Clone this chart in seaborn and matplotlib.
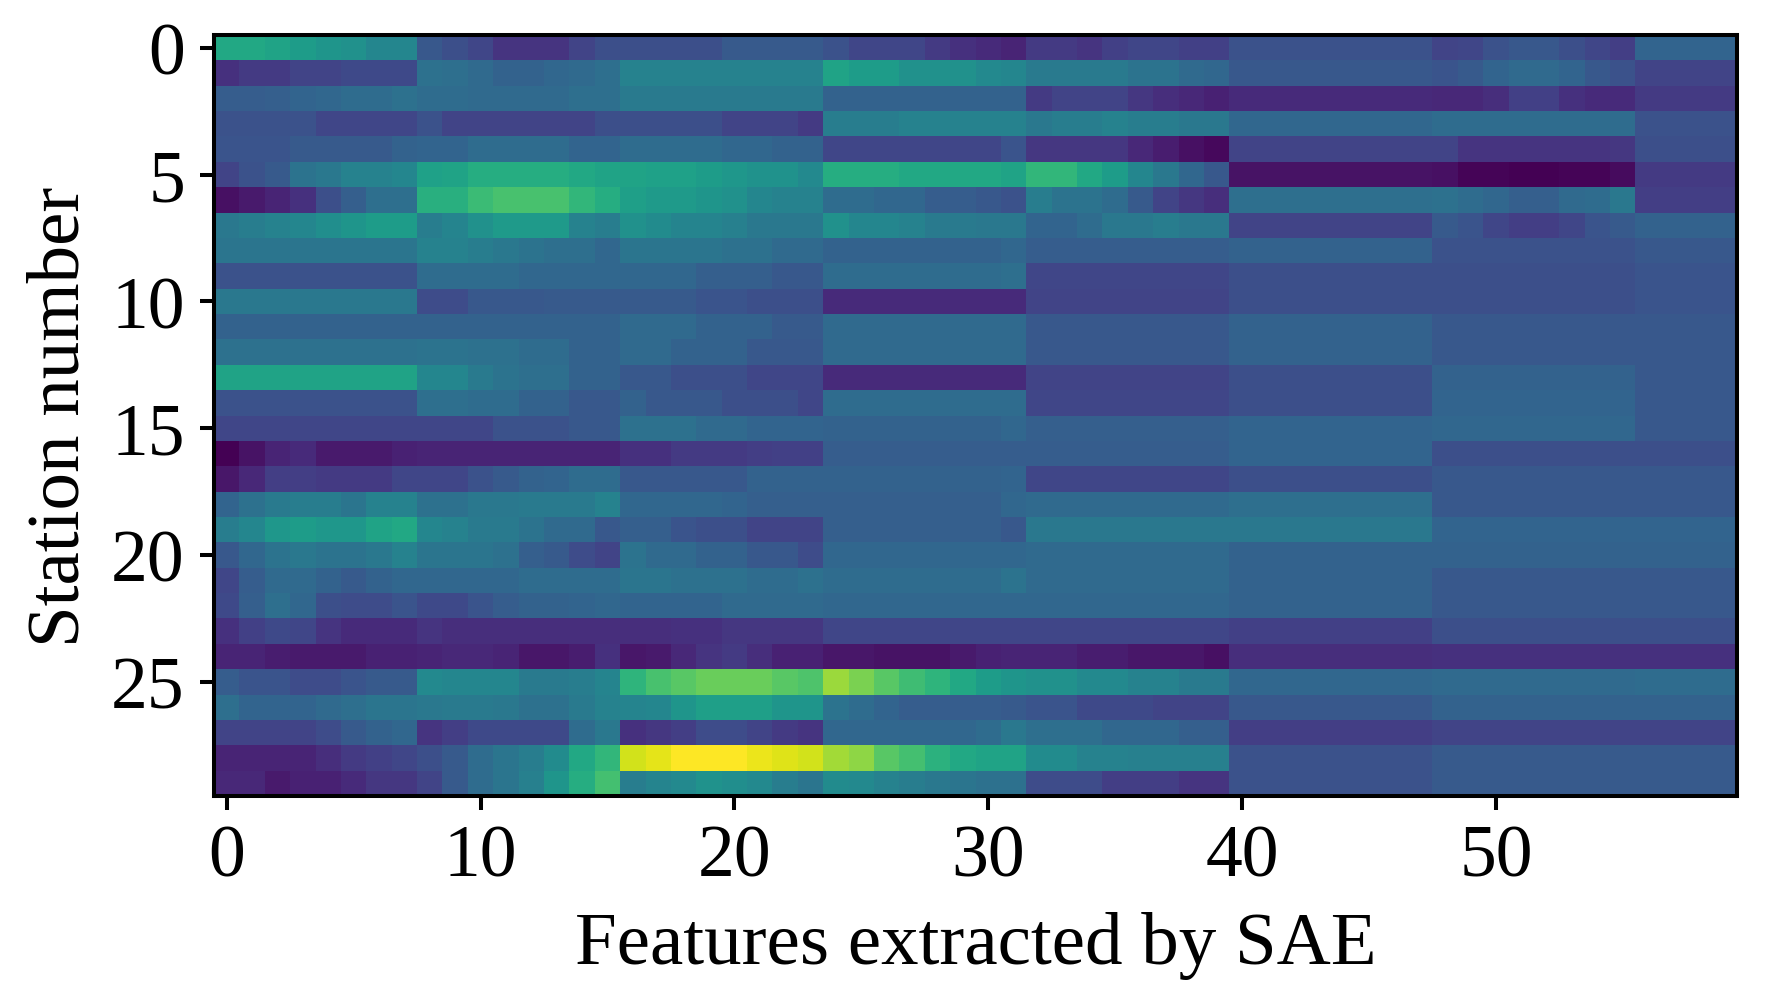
import numpy as np
import matplotlib
matplotlib.use("Agg")
import matplotlib.pyplot as plt
import seaborn as sns

x_label = "Features extracted by SAE"
y_label = "Station number"
x_ticks = [0, 10, 20, 30, 40, 50]
y_ticks = [0, 5, 10, 15, 20, 25]

s00 = [60,60,58,55,52,50,46,46, 27,24,21,15,15,15,20,24, 24,24,24,24,28,28,28,28, 25,21,21,21,17,14,12,10, 17,17,15,19,21,21,19,19, 25,25,25,25,25,25,25,25, 20,21,25,27,27,24,21,18, 32,32,32,32]
s01 = [14,17,17,20,20,22,22,22, 37,36,34,31,31,33,34,36, 44,44,44,44,44,44,44,44, 58,55,55,50,50,50,47,46, 41,41,41,41,38,38,34,33, 27,27,27,27,27,27,27,27, 26,28,32,34,34,32,27,25, 20,20,20,20]
s02 = [29,29,30,32,33,35,35,37, 35,35,34,34,34,34,36,36, 41,41,41,41,41,41,41,41, 31,31,31,31,31,31,31,31, 17,20,20,20,16,13,11,9, 12,12,12,12,12,12,12,12, 11,11,13,19,19,14,12,12, 17,17,17,17]
s03 = [25,25,25,25,21,21,21,21, 25,20,20,20,20,20,20,24, 24,24,24,24,20,20,20,17, 42,42,42,44,44,44,44,44, 40,42,42,44,42,42,40,40, 33,33,33,33,33,33,33,33, 35,35,35,35,35,35,35,35, 25,25,25,25]
s04 = [26,26,26,28,28,28,28,31, 32,32,35,35,35,35,32,32, 35,35,35,35,33,33,31,31, 21,21,21,21,21,21,21,26, 16,16,16,16,11,8,4,2, 20,20,20,20,20,20,20,20, 20,15,15,15,15,15,15,16, 24,24,24,24]
s05 = [20,25,28,38,40,44,44,46, 57,58,62,62,62,62,60,58, 58,57,57,55,53,51,51,47, 62,62,62,60,60,60,60,58, 66,66,60,55,46,40,33,27, 5,5,5,5,5,5,5,5, 4,1,1,0,0,1,1,3, 17,17,17,17]
s06 = [4,7,10,14,24,30,36,36, 63,63,68,71,71,71,66,62, 56,54,54,52,50,46,44,44, 35,35,33,33,29,29,27,25, 42,38,38,35,28,20,16,13, 36,36,36,36,36,36,36,36, 37,35,33,30,30,34,35,40, 18,18,18,18]
s07 = [40,42,44,46,49,52,55,55, 42,45,50,54,54,54,44,42, 50,48,45,45,43,40,40,40, 50,46,46,44,41,41,40,40, 32,32,35,40,40,42,40,40, 20,20,20,20,20,20,20,20, 28,26,21,18,18,21,26,28, 31,31,31,31]
s08 = [39,39,39,39,39,39,39,39, 44,44,42,40,38,36,36,33, 39,39,39,39,37,37,34,34, 31,31,31,31,31,31,31,33, 29,29,29,29,29,29,29,29, 31,31,31,31,31,31,31,31, 25,25,25,25,25,25,25,25, 27,27,27,27]
s09 = [25,25,25,25,25,25,25,25, 35,35,35,35,33,33,33,33, 33,33,33,30,30,30,27,27, 35,35,35,35,35,35,35,36, 21,21,21,21,21,21,21,21, 24,24,24,24,24,24,24,24, 24,24,24,24,24,24,24,24, 26,26,26,26]
s10 = [40,40,40,40,40,40,40,40, 23,23,27,27,27,28,28,28, 28,28,28,26,26,24,24,24, 12,12,12,12,12,12,12,12, 20,20,20,20,20,20,20,20, 24,24,24,24,24,24,24,24, 24,24,24,24,24,24,24,24, 26,26,26,26]
s11 = [31,31,31,31,31,31,31,31, 31,31,31,31,31,31,31,31, 34,34,34,31,31,31,28,28, 34,34,34,34,34,34,34,34, 27,27,27,27,27,27,27,27, 31,31,31,31,31,31,31,31, 27,27,27,27,27,27,27,27, 27,27,27,27]
s12 = [37,37,37,37,37,37,37,37, 38,38,37,37,35,35,31,31, 34,34,31,31,31,27,27,27, 34,34,34,34,34,34,34,34, 27,27,27,27,27,27,27,27, 31,31,31,31,31,31,31,31, 27,27,27,27,27,27,27,27, 27,27,27,27]
s13 = [58,58,58,58,58,58,58,58, 46,46,41,38,36,36,31,31, 27,27,24,24,24,21,21,21, 12,12,12,12,12,12,12,12, 20,20,20,20,20,20,20,20, 24,24,24,24,24,24,24,24, 31,31,31,31,31,31,31,31, 27,27,27,27]
s14 = [25,25,25,25,25,25,25,25, 36,36,35,35,31,31,27,27, 31,27,27,27,24,24,24,21, 35,35,35,35,35,35,35,35, 21,21,21,21,21,21,21,21, 24,24,24,24,24,24,24,24, 32,32,32,32,32,32,32,32, 27,27,27,27]
s15 = [21,21,21,21,21,21,21,21, 21,21,21,25,25,25,27,27, 37,37,37,34,34,32,32,32, 31,31,31,31,31,31,31,33, 30,30,30,30,30,30,30,30, 32,32,32,32,32,32,32,32, 33,33,33,33,33,33,33,33, 27,27,27,27]
s16 = [0,5,10,12,7,7,7,9, 10,10,10,10,10,10,10,10, 14,14,17,17,17,18,19,19, 29,29,29,29,29,29,29,29, 29,29,29,29,29,29,29,29, 32,32,32,32,32,32,32,32, 24,24,24,24,24,24,24,24, 24,24,24,24]
s17 = [6,11,18,18,17,17,17,21, 21,21,25,28,31,32,35,35, 27,27,27,27,27,31,31,31, 31,31,31,31,31,31,31,32, 21,21,21,21,21,21,21,21, 24,24,24,24,24,24,24,24, 27,27,27,27,27,27,27,27, 27,27,27,27]
s18 = [32,37,41,42,42,39,44,44, 37,37,40,40,41,41,41,44, 33,33,33,33,32,30,30,30, 30,30,30,30,30,30,30,33, 34,34,34,34,34,34,34,34, 36,36,36,36,36,36,36,36, 27,27,27,27,27,27,27,27, 27,27,27,27]
s19 = [42,46,53,55,53,53,58,60, 46,44,41,41,38,34,34,27, 30,30,26,24,24,20,20,20, 30,30,30,30,30,30,30,27, 40,40,40,40,40,40,40,40, 40,40,40,40,40,40,40,40, 32,32,32,32,32,32,32,32, 32,32,32,32]
s20 = [27,33,38,40,38,38,40,44, 39,39,39,37,30,28,23,20, 38,34,34,31,31,27,27,23, 33,33,33,33,33,33,33,33, 34,34,34,34,34,34,34,34, 31,31,31,31,31,31,31,31, 31,31,31,31,31,31,31,31, 31,31,31,31]
s21 = [21,29,34,34,31,28,31,33, 33,33,33,33,35,35,35,35, 39,39,37,37,37,35,35,37, 35,35,35,35,35,35,35,38, 34,34,34,34,34,34,34,34, 31,31,31,31,31,31,31,31, 27,27,27,27,27,27,27,27, 27,27,27,27]
s22 = [22,30,36,33,24,23,23,26, 22,22,26,29,31,31,32,33, 32,32,32,32,34,34,34,34, 33,33,33,33,33,33,33,33, 33,33,33,33,33,33,33,33, 31,31,31,31,31,31,31,31, 27,27,27,27,27,27,27,27, 27,27,27,27]
s23 = [14,19,22,21,15,12,12,12, 15,13,13,13,13,13,13,13, 13,13,14,14,16,16,16,16, 21,21,21,21,21,21,21,21, 21,21,21,21,21,21,21,21, 19,19,19,19,19,19,19,19, 24,24,24,24,24,24,24,24, 24,24,24,24]
s24 = [10,10,8,7,7,7,9,9, 10,11,11,10,6,6,8,14, 6,7,11,15,17,13,9,9, 6,6,5,5,5,7,9,10, 10,10,8,8,6,6,6,4, 13,13,13,13,13,13,13,13, 14,14,14,14,14,14,14,14, 14,14,14,14]
s25 = [29,26,26,23,23,26,28,28, 47,46,46,46,41,41,42,45, 65,71,74,77,77,77,74,72, 85,80,74,69,65,60,55,52, 50,50,47,47,44,44,41,41, 33,33,33,33,33,33,33,33, 34,34,34,34,34,34,34,34, 35,35,35,35]
s26 = [36,32,32,32,34,36,39,39, 40,41,41,40,37,37,41,44, 45,46,52,56,56,56,52,52, 38,35,32,29,29,29,29,28, 26,26,22,22,22,20,20,20, 27,27,27,27,27,27,27,27, 31,31,31,31,31,31,31,31, 31,31,31,31]
s27 = [20,20,20,20,23,28,31,33, 15,18,22,22,22,22,35,40, 14,16,18,23,23,20,17,15, 33,33,33,33,33,33,35,40, 36,36,36,33,33,33,30,30, 18,18,18,18,18,18,18,18, 20,20,20,20,20,20,20,20, 20,20,20,20]
s28 = [10,10,10,10,13,17,19,21, 24,28,35,39,42,48,60,66, 93,96,100,100,100,97,95,93, 86,83,74,70,64,60,58,58, 48,48,44,44,43,43,43,43, 25,25,25,25,25,25,25,25, 28,28,28,28,28,28,28,28, 28,28,28,28]
s29 = [11,11,7,9,9,12,16,16, 20,28,35,39,43,52,62,70, 42,45,47,51,49,47,42,39, 48,47,44,42,40,39,37,37, 23,23,23,18,18,18,15,15, 25,25,25,25,25,25,25,25, 28,28,28,28,28,28,28,28, 28,28,28,28]

stations = [s00, s01, s02, s03, s04, s05, s06, s07, s08, s09,
            s10, s11, s12, s13, s14, s15, s16, s17, s18, s19,
            s20, s21, s22, s23, s24, s25, s26, s27, s28, s29]

sns.set_theme(style="white")
plt.rcParams["font.family"] = ["Liberation Serif", "DejaVu Serif"]

W, H, DPI = 1775, 1004, 100
fig = plt.figure(figsize=(W / DPI, H / DPI), dpi=DPI, facecolor="white")
ax = fig.add_axes([214 / W, 1 - 797 / H, (1737 - 214) / W, (797 - 36) / H])

sns.heatmap(np.array(stations, dtype=float), cmap="viridis", vmin=0, vmax=100,
            cbar=False, ax=ax, xticklabels=False, yticklabels=False)

ax.set_xticks([t + 0.5 for t in x_ticks], labels=[str(t) for t in x_ticks])
ax.set_yticks([t + 0.5 for t in y_ticks], labels=[str(t) for t in y_ticks], rotation=0)
ax.tick_params(axis="x", which="major", labelsize=53, length=10, width=2.9,
               color="black", labelcolor="black", pad=10, bottom=True)
ax.tick_params(axis="y", which="major", labelsize=53, length=10, width=2.9,
               color="black", labelcolor="black", pad=11, left=True)
ax.set_xlabel(x_label, fontsize=54, color="black", labelpad=14)
ax.set_ylabel(y_label, fontsize=54, color="black", labelpad=12)
for side in ax.spines.values():
    side.set_visible(True)
    side.set_linewidth(2.9)
    side.set_color("black")

fig.savefig("out.png", dpi=DPI, facecolor="white")
